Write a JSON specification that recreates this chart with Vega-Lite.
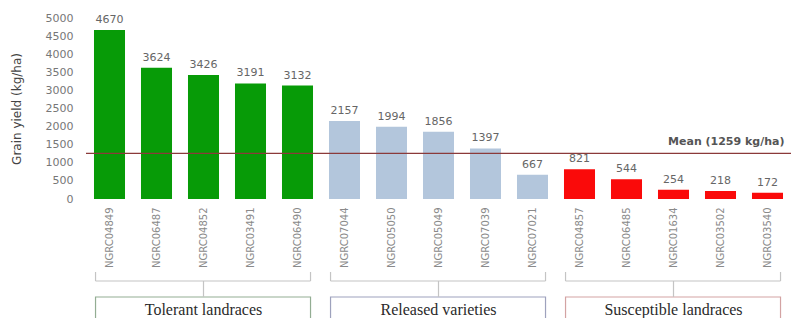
{
  "$schema": "https://vega.github.io/schema/vega-lite/v6.json",
  "padding": {"left": 10, "top": 12, "right": 0, "bottom": 0},
  "background": "white",
  "config": {"view": {"stroke": null}, "font": "DejaVu Sans"},
  "spacing": 3,
  "datasets": {
    "bars": [
      {"line": "NGRC04849", "yield": 4670, "group": "Tolerant landraces"},
      {"line": "NGRC06487", "yield": 3624, "group": "Tolerant landraces"},
      {"line": "NGRC04852", "yield": 3426, "group": "Tolerant landraces"},
      {"line": "NGRC03491", "yield": 3191, "group": "Tolerant landraces"},
      {"line": "NGRC06490", "yield": 3132, "group": "Tolerant landraces"},
      {"line": "NGRC07044", "yield": 2157, "group": "Released varieties"},
      {"line": "NGRC05050", "yield": 1994, "group": "Released varieties"},
      {"line": "NGRC05049", "yield": 1856, "group": "Released varieties"},
      {"line": "NGRC07039", "yield": 1397, "group": "Released varieties"},
      {"line": "NGRC07021", "yield": 667, "group": "Released varieties"},
      {"line": "NGRC04857", "yield": 821, "group": "Susceptible landraces"},
      {"line": "NGRC06485", "yield": 544, "group": "Susceptible landraces"},
      {"line": "NGRC01634", "yield": 254, "group": "Susceptible landraces"},
      {"line": "NGRC03502", "yield": 218, "group": "Susceptible landraces"},
      {"line": "NGRC03540", "yield": 172, "group": "Susceptible landraces"}
    ],
    "groups": [
      {"group": "Tolerant landraces", "first": "NGRC04849", "mid": "NGRC04852", "last": "NGRC06490"},
      {"group": "Released varieties", "first": "NGRC07044", "mid": "NGRC05049", "last": "NGRC07021"},
      {"group": "Susceptible landraces", "first": "NGRC04857", "mid": "NGRC01634", "last": "NGRC03540"}
    ],
    "mean": [{"label": "Mean (1259 kg/ha)", "mean": 1259, "line": "NGRC03540"}]
  },
  "vconcat": [
    {
      "width": 705,
      "height": 181,
      "encoding": {
        "x": {
          "field": "line", "type": "nominal", "sort": null,
          "scale": {"domain": ["NGRC04849","NGRC06487","NGRC04852","NGRC03491","NGRC06490","NGRC07044","NGRC05050","NGRC05049","NGRC07039","NGRC07021","NGRC04857","NGRC06485","NGRC01634","NGRC03502","NGRC03540"], "paddingInner": 0.34, "paddingOuter": 0.17},
          "axis": {"title": null, "labelAngle": -90, "labelColor": "#8a8a8a", "labelFontSize": 10, "ticks": false, "domain": false, "labelPadding": 8, "labelFont": "DejaVu Sans"}
        },
        "y": {
          "field": "yield", "type": "quantitative",
          "scale": {"domain": [0, 5000], "nice": false},
          "axis": {"title": "Grain yield (kg/ha)", "titleFontSize": 12, "titleColor": "#444", "titleFontWeight": "normal", "titlePadding": 22, "labelColor": "#777", "labelFontSize": 11, "values": [0, 500, 1000, 1500, 2000, 2500, 3000, 3500, 4000, 4500, 5000], "format": "d", "labelOverlap": false, "grid": false, "ticks": false, "domain": false, "labelPadding": 13}
        }
      },
      "layer": [
        {
          "data": {"name": "bars"},
          "mark": {"type": "bar"},
          "encoding": {
            "color": {
              "field": "group", "type": "nominal",
              "scale": {"domain": ["Tolerant landraces", "Released varieties", "Susceptible landraces"], "range": ["#079b07", "#b3c6dc", "#fa0a0a"]},
              "legend": null
            }
          }
        },
        {
          "data": {"name": "bars"},
          "mark": {"type": "text", "dy": -10, "fontSize": 11, "color": "#666"},
          "encoding": {
            "text": {"field": "yield", "type": "quantitative", "format": "d"}
          }
        },
        {
          "data": {"name": "mean"},
          "mark": {"type": "rule", "color": "#8b3a3a", "strokeWidth": 1.3},
          "encoding": {
            "x": null,
            "y": {"field": "mean", "type": "quantitative", "scale": {"domain": [0, 5000], "nice": false},
              "axis": {"title": "Grain yield (kg/ha)", "titleFontSize": 12, "titleColor": "#444", "titleFontWeight": "normal", "titlePadding": 22, "labelColor": "#777", "labelFontSize": 11, "values": [0, 500, 1000, 1500, 2000, 2500, 3000, 3500, 4000, 4500, 5000], "format": "d", "labelOverlap": false, "grid": false, "ticks": false, "domain": false, "labelPadding": 13}}
          }
        },
        {
          "data": {"name": "mean"},
          "mark": {"type": "text", "align": "right", "baseline": "bottom", "dy": -6, "dx": 17, "fontSize": 11, "fontWeight": "bold", "color": "#555"},
          "encoding": {
            "y": {"field": "mean", "type": "quantitative", "scale": {"domain": [0, 5000], "nice": false},
              "axis": {"title": "Grain yield (kg/ha)", "titleFontSize": 12, "titleColor": "#444", "titleFontWeight": "normal", "titlePadding": 22, "labelColor": "#777", "labelFontSize": 11, "values": [0, 500, 1000, 1500, 2000, 2500, 3000, 3500, 4000, 4500, 5000], "format": "d", "labelOverlap": false, "grid": false, "ticks": false, "domain": false, "labelPadding": 13}},
            "text": {"field": "label"}
          }
        }
      ]
    },
    {
      "width": 705,
      "height": 50,
      "data": {"name": "groups"},
      "encoding": {},
      "layer": [
        {
          "mark": {"type": "rect", "fill": "white", "strokeWidth": 1.2},
          "encoding": {
            "x": {"field": "first", "type": "nominal", "bandPosition": 0.05,
              "scale": {"domain": ["NGRC04849","NGRC06487","NGRC04852","NGRC03491","NGRC06490","NGRC07044","NGRC05050","NGRC05049","NGRC07039","NGRC07021","NGRC04857","NGRC06485","NGRC01634","NGRC03502","NGRC03540"], "paddingInner": 0.34, "paddingOuter": 0.17},
              "axis": null},
            "x2": {"field": "last", "bandPosition": 0.92},
            "y": {"datum": 0.48, "scale": {"domain": [0, 1]}, "axis": null},
            "y2": {"datum": -0.1},
            "stroke": {"field": "group", "type": "nominal",
              "scale": {"domain": ["Tolerant landraces", "Released varieties", "Susceptible landraces"], "range": ["#93ad93", "#9ea2bd", "#d3a3a3"]},
              "legend": null}
          }
        },
        {
          "mark": {"type": "text", "font": "Liberation Serif", "fontSize": 16, "color": "#2a2a2a", "baseline": "middle"},
          "encoding": {
            "x": {"field": "mid", "type": "nominal", "bandPosition": 0.5},
            "y": {"datum": 0.22},
            "text": {"field": "group"}
          }
        },
        {
          "mark": {"type": "rule", "color": "#c4c4c4", "strokeWidth": 1.2},
          "encoding": {
            "x": {"field": "first", "type": "nominal", "bandPosition": 0.05},
            "x2": {"field": "last", "bandPosition": 0.92},
            "y": {"datum": 0.8}
          }
        },
        {
          "mark": {"type": "rule", "color": "#c4c4c4", "strokeWidth": 1.2},
          "encoding": {
            "x": {"field": "first", "type": "nominal", "bandPosition": 0.05},
            "y": {"datum": 0.8},
            "y2": {"datum": 0.98}
          }
        },
        {
          "mark": {"type": "rule", "color": "#c4c4c4", "strokeWidth": 1.2},
          "encoding": {
            "x": {"field": "last", "type": "nominal", "bandPosition": 0.92},
            "y": {"datum": 0.8},
            "y2": {"datum": 0.98}
          }
        },
        {
          "mark": {"type": "rule", "color": "#c4c4c4", "strokeWidth": 1.2},
          "encoding": {
            "x": {"field": "mid", "type": "nominal", "bandPosition": 0.5},
            "y": {"datum": 0.8},
            "y2": {"datum": 0.48}
          }
        }
      ]
    }
  ]
}
